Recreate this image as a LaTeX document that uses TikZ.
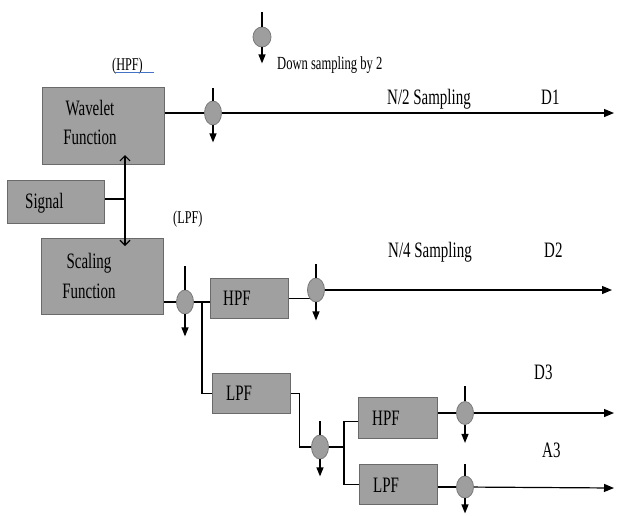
\documentclass[tikz,border=0pt]{standalone}
\usepackage{fontspec}
\setmainfont{Liberation Serif}[FakeStretch=0.68]
\usetikzlibrary{arrows.meta,shapes.geometric}
\definecolor{boxfill}{HTML}{A0A0A0}
\definecolor{boxline}{HTML}{6A6A6A}
\definecolor{dsfill}{HTML}{9E9E9E}
\definecolor{dsline}{HTML}{7A7A7A}
\definecolor{ulblue}{HTML}{4472C4}
\pgfdeclarelayer{bg}
\pgfsetlayers{bg,main}
\begin{document}
\begin{tikzpicture}[x=1pt,y=-1pt,
  blk/.style={draw=boxline, fill=boxfill, line width=1.2pt, inner sep=0pt, anchor=north west},
  ds/.style={ellipse, draw=dsline, fill=dsfill, inner sep=0pt, minimum width=17pt, minimum height=24pt, line width=0.8pt},
  wire/.style={line width=1.2pt, black},
  outarr/.style={wire, -{Triangle[length=10pt,width=8pt]}},
  dnarr/.style={wire, -{Triangle[length=9pt,width=7pt]}},
  lbl/.style={font=\fontsize{22}{26}\selectfont, inner sep=0pt, anchor=base west},
  clbl/.style={font=\fontsize{22}{26}\selectfont, inner sep=0pt, anchor=base}]
\useasboundingbox (0,0) rectangle (617,515);

% blocks
\node[blk, minimum width=122pt, minimum height=77pt] (wav) at (42,87) {};
\node[blk, minimum width=97pt, minimum height=43pt] (sig) at (7,180) {};
\node[blk, minimum width=122pt, minimum height=76pt] (scl) at (41,238) {};
\node[blk, minimum width=78pt, minimum height=40pt] (h1) at (210,278) {};
\node[blk, minimum width=78pt, minimum height=40pt] (l1) at (212,373) {};
\node[blk, minimum width=79pt, minimum height=41pt] (h2) at (358,397) {};
\node[blk, minimum width=78pt, minimum height=40pt] (l2) at (359,464) {};

% down-samplers
\node[ds, minimum width=18pt, minimum height=20pt] (dl) at (262,37) {};
\node[ds, minimum height=24pt] (d1) at (213,113) {};
\node[ds] (d2) at (185,302) {};
\node[ds] (d3) at (316,290) {};
\node[ds] (d4) at (320,447) {};
\node[ds, minimum height=23pt] (d5) at (465,413) {};
\node[ds, minimum height=22pt] (d6) at (465,487) {};

% coordinates
\coordinate (j) at (125,199);
\coordinate (ta) at (125,155);
\coordinate (tb) at (125,246);
\coordinate (e1) at (614,113);
\coordinate (e3) at (612,290);
\coordinate (e5) at (614,413);
\coordinate (e6) at (614,488);
\coordinate (b1) at (202,302);
\coordinate (b2) at (344,447);

\begin{pgfonlayer}{bg}
\draw[wire] (d1 -| wav.east) -- (d1);
\draw[outarr] (d1) -- (e1);
\draw[wire] (sig.east |- j) -- (j);
\draw[wire] (d2 -| scl.east) -- (d2) -- (d2 -| h1.west);
\draw[wire] (b1) |- (l1.west);
\draw[wire] (d3 |- h1.east) -- (h1.east);
\draw[outarr] (d3) -- (e3);
\draw[wire] (l1.east) -- ++(8,0) |- (d4);
\draw[wire] (d4) -- (b2);
\draw[wire] (b2 |- h2.west) ++(0,3) -- (b2) |- (l2.west);
\draw[wire] (b2 |- h2.west) ++(0,3) -- ++(14,0);
\draw[wire] (h2.east |- d5) -- (d5);
\draw[outarr] (d5) -- (e5);
\draw[wire] (l2.east |- d6) -- (d6);
\draw[outarr] (d6) -- (e6);
\end{pgfonlayer}

% signal split arrow
\draw[wire, {Straight Barb[length=5pt,width=10pt]}-{Straight Barb[length=5pt,width=10pt]}] (ta) -- (tb);

% ticks and down arrows
\foreach \n/\up/\dn in {dl/15/16, d1/13/17, d2/24/22, d3/14/18, d4/14/17, d5/15/18, d6/12/15} {
  \draw[wire] (\n.north) -- ++(0,-\up);
  \draw[dnarr] (\n.south) -- ++(0,\dn);
}

% texts
\node[clbl] (tw1) at (90,115) {Wavelet};
\node[clbl] (tw2) at (90,144) {Function};
\node[lbl] (ts) at (25,208) {Signal};
\node[clbl] (tc1) at (89,268) {Scaling};
\node[clbl] (tc2) at (89,298) {Function};
\node[lbl, font=\fontsize{18}{20}\selectfont] (thpf) at (112,70) {(HPF)};
\draw[ulblue, line width=1.2pt] (115,72.5) -- (154,72.5);
\node[lbl, font=\fontsize{18}{20}\selectfont] (tlpf) at (173,223) {(LPF)};
\node[lbl, font=\fontsize{18.5}{20}\selectfont] (tdown) at (277,69) {Down sampling by 2};
\node[lbl] (tn2) at (387,104) {N/2 Sampling};
\node[lbl] (td1) at (541,104) {D1};
\node[lbl] (tn4) at (388,257) {N/4 Sampling};
\node[lbl] (td2) at (544,257) {D2};
\node[lbl] (td3) at (534,379) {D3};
\node[lbl] (ta3) at (542,457) {A3};
\node[lbl] (th1) at (223,305) {HPF};
\node[lbl] (tl1) at (226,400) {LPF};
\node[lbl] (th2) at (372,425) {HPF};
\node[lbl] (tl2) at (373,492) {LPF};
\end{tikzpicture}
\end{document}
